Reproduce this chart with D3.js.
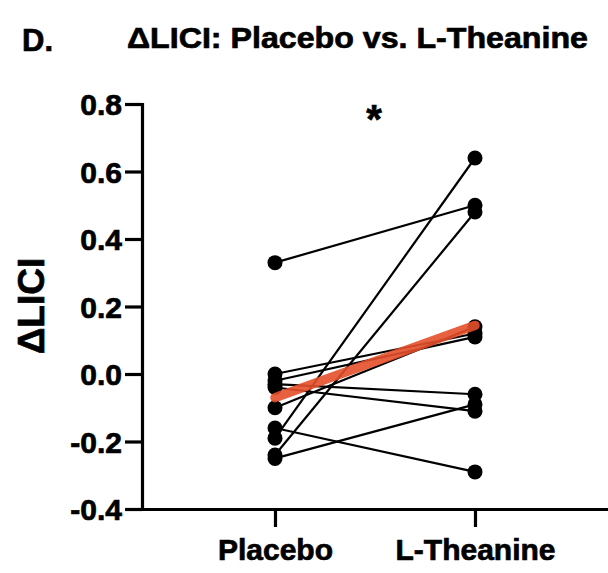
<!DOCTYPE html>
<html>
<head>
<meta charset="utf-8">
<script src="https://cdn.jsdelivr.net/npm/d3@7"></script>
<style>
  body { margin: 0; background: #fff; }
  svg text { font-family: "Liberation Sans", Arial, Helvetica, sans-serif; font-weight: bold;
             fill: #000; stroke: #000; stroke-width: 0.7px; }
</style>
</head>
<body>
<div id="vis"></div>
<script>
// paired subjects: placebo value -> L-Theanine value
const conditions = ["Placebo", "L-Theanine"]
const placebo   = [0.33, -0.19, -0.24, -0.16, -0.25, 0.00, -0.02, -0.03, -0.04, -0.10]
const theanine  = [0.50,  0.64,  0.48, -0.29, -0.09, 0.12,  0.11, -0.06, -0.11,  0.14]
const yTicks = [-0.4, -0.2, 0.0, 0.2, 0.4, 0.6, 0.8]

const width = 608, height = 573

const svg = d3.select("#vis").append("svg")
  .attr("width", width)
  .attr("height", height)

const y = d3.scaleLinear().domain([-0.4, 0.8]).range([509, 104])
// category index on a linear scale so the x axis runs on to the right edge
const x = d3.scaleLinear().domain([-0.665, 1.665]).range([142, 608])

// axes
const yAxis = svg.append("g")
  .attr("transform", "translate(142,0)")
  .call(d3.axisLeft(y).tickValues(yTicks).tickSize(17).tickSizeOuter(0)
    .tickPadding(3).tickFormat(d => d.toFixed(1)))
const xAxis = svg.append("g")
  .attr("transform", "translate(0,509)")
  .call(d3.axisBottom(x).tickValues([0, 1]).tickSize(18).tickSizeOuter(0)
    .tickPadding(12).tickFormat(i => conditions[i]))

;[yAxis, xAxis].forEach(g => {
  g.selectAll("path, line").attr("stroke", "#000").attr("stroke-width", 3.2)
  g.select(".domain").attr("stroke-linecap", "square")
})
yAxis.selectAll("text").style("font-size", "30px").attr("dy", "0.36em")
xAxis.selectAll("text").style("font-size", "30px")

// paired lines
const pairs = placebo.map((p, i) => [p, theanine[i]])
svg.append("g").selectAll("line")
  .data(pairs)
  .join("line")
    .attr("x1", x(0)).attr("x2", x(1))
    .attr("y1", d => y(d[0])).attr("y2", d => y(d[1]))
    .attr("stroke", "#000")
    .attr("stroke-width", 2.2)

// dots
const dots = pairs.flatMap(d => [{c: 0, v: d[0]}, {c: 1, v: d[1]}])
svg.append("g").selectAll("circle")
  .data(dots)
  .join("circle")
    .attr("cx", d => x(d.c))
    .attr("cy", d => y(d.v))
    .attr("r", 7.5)
    .attr("fill", "#000")

// group mean
const means = [d3.mean(placebo), d3.mean(theanine)]
svg.append("line")
  .attr("x1", x(0)).attr("x2", x(1))
  .attr("y1", y(means[0])).attr("y2", y(means[1]))
  .attr("stroke", "#e4502c")
  .attr("stroke-opacity", 0.9)
  .attr("stroke-width", 9.5)
  .attr("stroke-linecap", "round")

// significance
svg.append("text")
  .attr("x", 374).attr("y", 133)
  .attr("text-anchor", "middle")
  .style("font-size", "40px")
  .text("*")

// titles
svg.append("text")
  .attr("x", 22).attr("y", 51)
  .style("font-size", "31px")
  .text("D.")
svg.append("text")
  .attr("x", 127).attr("y", 48)
  .style("font-size", "30px")
  .attr("textLength", 461)
  .attr("lengthAdjust", "spacingAndGlyphs")
  .text("\u0394LICI: Placebo vs. L-Theanine")

svg.append("text")
  .attr("transform", "translate(44,306) rotate(-90)")
  .attr("text-anchor", "middle")
  .style("font-size", "37px")
  .text("\u0394LICI")
</script>
</body>
</html>
